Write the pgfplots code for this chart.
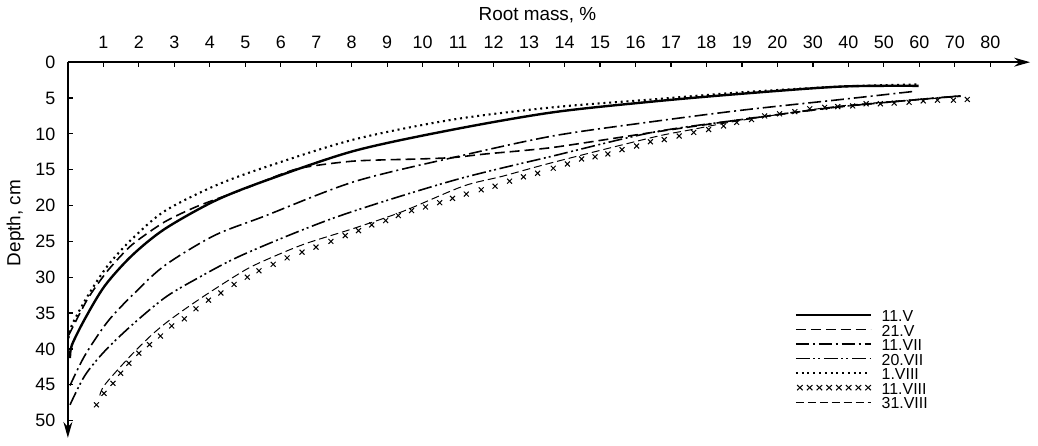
\documentclass[border=0pt]{standalone}
\usepackage{pgfplots}
\pgfplotsset{compat=1.18}
\usepackage{fontspec}
\setmainfont{Liberation Sans}
\usetikzlibrary{arrows.meta}
% Root mass axis: 0..20 % linear, then 30,40,...,80 at one tick step each
\pgfplotsset{/pgfplots/table/rm/.style={
  x expr={\thisrowno{0}<20.0001 ? \thisrowno{0} : 20+(\thisrowno{0}-20)/10},
  y index=1}}

\begin{document}
\begin{tikzpicture}
\begin{axis}[
  name=ax,
  scale only axis, width=483.5pt, height=188.75pt,
  xmin=0, xmax=27.12, ymin=0, ymax=52.4,
  y dir=reverse,
  axis x line=top, axis y line=left,
  axis line style={line width=0.7pt, -{Stealth[length=8pt,width=4.5pt]}},
  xtick={1,2,...,26},
  xticklabels={1,2,3,4,5,6,7,8,9,10,11,12,13,14,15,16,17,18,19,20,30,40,50,60,70,80},
  ytick={0,5,...,50},
  tick align=inside,
  major tick length=2.5pt,
  tick style={line width=0.6pt, black},
  tick label style={font=\fontsize{9}{10}\selectfont},
  /pgf/number format/assume math mode=true,
  xticklabel shift=3.2pt,
  yticklabel shift=2.8pt,
  xlabel={Root mass, \%}, ylabel={Depth, cm},
  label style={font=\fontsize{9.5}{11}\selectfont},
  xlabel style={at={(axis description cs:0.488,1)}, anchor=center, yshift=23.75pt},
  ylabel style={at={(axis description cs:-0.0545,0.572)}, anchor=center},
  clip=false,
  legend image code/.code={\draw[#1] (0pt,0.3pt) -- (37.5pt,0.3pt);},
  legend style={at={(axis description cs:0.755,0.342)}, anchor=north west,
    draw=none, fill=none, inner sep=0pt, row sep=1.4pt,
    font=\fontsize{8}{9}\selectfont,
    nodes={inner sep=0pt, text height=5.9pt, text depth=0pt},
    /tikz/every odd column/.append style={column sep=5pt}},
  legend cell align=left,
]
% 11.V
\addplot[black, line width=1.2pt, smooth, tension=0.5] table[rm] {
x y
0.06 41.3
0.11 39.5
0.48 35.8
1.04 31.2
1.80 27.0
2.72 23.3
4.12 19.4
5.53 16.6
8.05 12.4
10.86 9.4
13.66 7.0
16.47 5.5
19.0 4.4
38 3.4
59.8 3.3
};
\addlegendentry{11.V}
% 21.V
\addplot[black, line width=0.8pt, dash pattern=on 5pt off 2.5pt, smooth, tension=0.4] table[rm] {
x y
0.02 38.1
0.56 33.0
1.12 29.1
1.80 25.5
2.72 22.3
3.65 20.1
4.96 17.7
6.45 14.9
8.05 13.8
9.93 13.5
10.86 13.3
11.78 12.8
13.66 11.9
16.47 9.8
18.99 8.0
38 6.2
71.6 4.7
};
\addlegendentry{21.V}
% 11.VII
\addplot[black, line width=0.8pt, dash pattern=on 6.5pt off 2pt on 1pt off 2pt, smooth, tension=0.5] table[rm] {
x y
0.06 45.1
0.48 40.9
1.12 36.2
1.80 32.6
2.72 28.4
4.12 24.2
5.53 21.5
8.05 16.7
10.86 13.3
13.66 10.3
16.47 8.3
18.99 6.7
38 5.2
58 4.1
};
\addlegendentry{11.VII}
% 20.VII
\addplot[black, line width=0.8pt, dash pattern=on 7pt off 1.8pt on 1pt off 1.5pt on 1pt off 1.8pt, smooth, tension=0.5] table[rm] {
x y
0.06 47.8
0.48 43.7
1.04 40.3
1.80 36.7
2.72 32.9
3.56 30.4
4.96 26.8
7.57 21.6
10.86 16.5
13.66 13.1
16.47 9.8
18.99 8.0
38 6.2
71.6 4.7
};
\addlegendentry{20.VII}
% 1.VIII
\addplot[black, line width=1.05pt, dash pattern=on 1pt off 1.9pt, smooth, tension=0.5] table[rm] {
x y
0.02 38.5
0.11 36.7
0.56 32.6
1.12 28.4
1.80 24.7
2.72 20.8
4.12 17.3
5.53 14.7
8.05 10.8
10.86 8.0
13.66 6.3
16.47 5.2
19.0 4.2
38 3.4
59.8 3.1
};
\addlegendentry{1.VIII}
% 11.VIII
\addplot[black, only marks, mark=x, mark size=1.75pt, mark options={line width=0.5pt, solid},
  legend image code/.code={\foreach \k in {0,...,7}{\draw[black, line width=0.5pt, solid]
    ({\k*4.9pt+0.6pt},-1.0pt) -- ++(2.8pt,2.6pt) ++(-2.8pt,0pt) -- ++(2.8pt,-2.6pt);}}
  ] table[rm] {
x y
0.805 47.8
1.018 46.2
1.271 44.8
1.487 43.4
1.719 42.0
2.000 40.6
2.300 39.4
2.609 38.2
2.926 36.8
3.282 35.8
3.610 34.4
3.963 33.2
4.311 32.2
4.684 31.0
5.057 30.0
5.386 29.1
5.787 28.2
6.180 27.3
6.600 26.5
6.993 25.8
7.414 25.0
7.818 24.2
8.191 23.5
8.564 22.7
8.957 22.1
9.313 21.4
9.686 20.7
10.079 20.2
10.48 19.6
10.84 19.0
11.23 18.4
11.65 17.8
12.04 17.3
12.45 16.6
12.84 16.0
13.24 15.5
13.68 14.8
14.08 14.2
14.48 13.5
14.86 13.2
15.22 12.8
15.62 12.2
16.03 11.7
16.42 11.1
16.81 10.8
17.23 10.3
17.64 9.8
18.06 9.4
18.48 8.9
18.85 8.4
19.27 8.0
19.64 7.5
20.6 7.2
24.9 6.9
29.1 6.5
33.3 6.3
37.0 6.2
41.2 6.1
45.0 5.8
49.0 5.8
52.9 5.7
57.1 5.6
61.1 5.4
65.1 5.3
69.6 5.3
73.5 5.2
};
\addlegendentry{11.VIII}
% 31.VIII
\addplot[black, line width=0.5pt, dash pattern=on 4pt off 2pt, smooth, tension=0.5] table[rm] {
x y
0.9 46.5
1.04 45.0
1.74 41.1
2.35 38.1
2.81 36.2
3.37 34.2
4.03 32.0
4.96 29.1
5.53 27.7
6.65 25.4
8.05 23.2
9.45 20.8
11.14 17.3
12.26 15.9
13.66 14.0
16.47 10.5
17.59 9.4
18.99 8.1
38 6.1
71.6 4.8
};
\addlegendentry{31.VIII}
\end{axis}
\path[use as bounding box] ([shift={(-31.5pt,31.25pt)}]ax.north west) rectangle ([shift={(487.5pt,-192.75pt)}]ax.north west);
\end{tikzpicture}
\end{document}
